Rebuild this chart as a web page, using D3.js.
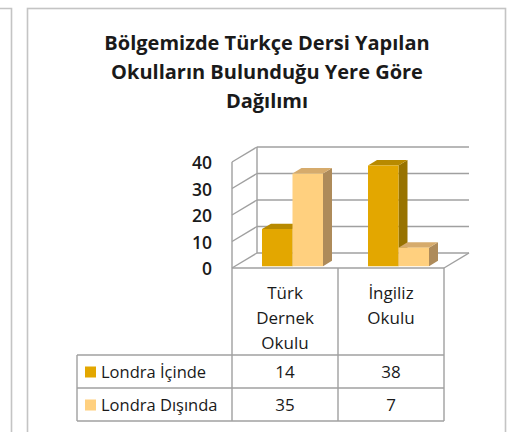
<!DOCTYPE html>
<html>
<head>
<meta charset="utf-8">
<script src="https://cdn.jsdelivr.net/npm/d3@7"></script>
<style>
  body { margin: 0; background: #fff; }
  text { font-family: "Open Sans", "Noto Sans", sans-serif; fill: #1a1a1a; }
</style>
</head>
<body>
<div id="chart"></div>
<script>
var titleLines = ['Bölgemizde Türkçe Dersi Yapılan', 'Okulların Bulunduğu Yere Göre', 'Dağılımı'],
	categories = ['Türk Dernek Okulu', 'İngiliz Okulu'],
	categoryLines = [['Türk', 'Dernek', 'Okulu'], ['İngiliz', 'Okulu']],
	seriesNames = ['Londra İçinde', 'Londra Dışında'],
	icinde = [14, 38],
	disinda = [35, 7],
	yTicks = [0, 10, 20, 30, 40];

var W = 515, H = 432;
var depthX = 25, depthY = 15;        // full floor depth offset
var barZ0 = 0.12, barZ1 = 0.48;       // bar depth inside the floor

// colours: front / top / side
var palette = [
	{ front: '#e3a700', top: '#b88a00', side: '#987300' },
	{ front: '#ffd07f', top: '#d6ab6c', side: '#ae8b5a' }
];

var svg = d3.select('#chart').append('svg')
	.attr('width', W)
	.attr('height', H);

// panel borders
svg.append('path')
	.attr('d', 'M0,8.5H11.5V' + (H + 5))
	.attr('fill', 'none').attr('stroke', '#c4c4c4').attr('stroke-width', 1.6);
svg.append('rect')
	.attr('x', 27.5).attr('y', 8.5).attr('width', 478).attr('height', H + 10)
	.attr('fill', 'none').attr('stroke', '#c4c4c4').attr('stroke-width', 1.6);

// title
svg.selectAll('.title')
	.data(titleLines)
	.enter().append('text')
	.attr('class', 'title')
	.attr('x', 267)
	.attr('y', function(d, i) { return 50 + i * 29; })
	.attr('text-anchor', 'middle')
	.style('font-size', '20px')
	.style('font-weight', 700)
	.text(function(d) { return d; });

var x = d3.scaleBand().domain(categories).range([232, 444]);
var y = d3.scaleLinear().domain([0, 40]).range([268, 162]);
var inner = d3.scaleBand().domain(seriesNames).range([27, 88]);

var gridColor = '#a0a0a0';

// back wall gridlines
svg.selectAll('.grid')
	.data(yTicks)
	.enter().append('line')
	.attr('x1', 232 + depthX)
	.attr('x2', 444 + depthX)
	.attr('y1', function(d) { return y(d) - depthY; })
	.attr('y2', function(d) { return y(d) - depthY; })
	.attr('stroke', gridColor).attr('stroke-width', 1.4);

// side wall gridlines
svg.selectAll('.sgrid')
	.data(yTicks)
	.enter().append('line')
	.attr('x1', 232)
	.attr('x2', 232 + depthX)
	.attr('y1', function(d) { return y(d); })
	.attr('y2', function(d) { return y(d) - depthY; })
	.attr('stroke', gridColor).attr('stroke-width', 1.4);

// wall edges and floor
var edges = [
	[232, y(0), 232, y(40)],
	[232 + depthX, y(0) - depthY, 232 + depthX, y(40) - depthY],
	[232, y(0), 444, y(0)],
	[444, y(0), 444 + depthX, y(0) - depthY]
];
svg.selectAll('.edge')
	.data(edges)
	.enter().append('line')
	.attr('x1', function(d) { return d[0]; })
	.attr('y1', function(d) { return d[1]; })
	.attr('x2', function(d) { return d[2]; })
	.attr('y2', function(d) { return d[3]; })
	.attr('stroke', gridColor).attr('stroke-width', 1.4);

// y tick labels
svg.selectAll('.ytick')
	.data(yTicks)
	.enter().append('text')
	.attr('x', 212)
	.attr('y', function(d) { return y(d) + 1; })
	.attr('dy', '0.35em')
	.attr('text-anchor', 'end')
	.style('font-size', '17.5px')
	.style('font-weight', 600)
	.text(function(d) { return d; });

// bars
var rows = [];
categories.forEach(function(c, i) {
	rows.push({ cat: c, s: 0, name: seriesNames[0], v: icinde[i] });
	rows.push({ cat: c, s: 1, name: seriesNames[1], v: disinda[i] });
});

function P(px, py, z) { return [px + z * depthX, py - z * depthY]; }

var bars = svg.selectAll('.bar')
	.data(rows)
	.enter().append('g')
	.attr('class', 'bar');

bars.each(function(d) {
	var g = d3.select(this);
	var x0 = x(d.cat) + inner(d.name), x1 = x0 + inner.bandwidth();
	var yb = y(0), yt = y(d.v);
	var c = palette[d.s];
	var a = P(x0, yt, barZ0), b = P(x1, yt, barZ0), bb = P(x1, yb, barZ0), ab = P(x0, yb, barZ0);
	var a2 = P(x0, yt, barZ1), b2 = P(x1, yt, barZ1), bb2 = P(x1, yb, barZ1);
	g.append('polygon').attr('points', [b, b2, bb2, bb].join(' ')).attr('fill', c.side);
	g.append('polygon').attr('points', [a, a2, b2, b].join(' ')).attr('fill', c.top);
	g.append('polygon').attr('points', [a, b, bb, ab].join(' ')).attr('fill', c.front);
});

// data table
var tableTop = y(0), headBottom = 355, rowH = 33;
var tLines = [
	[x.range()[0], tableTop, x.range()[0], headBottom + 2 * rowH],
	[x(categories[1]), tableTop, x(categories[1]), headBottom + 2 * rowH],
	[x.range()[1], tableTop, x.range()[1], headBottom + 2 * rowH],
	[77, headBottom, 77, headBottom + 2 * rowH],
	[77, headBottom, x.range()[1], headBottom],
	[77, headBottom + rowH, x.range()[1], headBottom + rowH],
	[77, headBottom + 2 * rowH, x.range()[1], headBottom + 2 * rowH]
];
svg.selectAll('.tline')
	.data(tLines)
	.enter().append('line')
	.attr('x1', function(d) { return d[0]; })
	.attr('y1', function(d) { return d[1]; })
	.attr('x2', function(d) { return d[2]; })
	.attr('y2', function(d) { return d[3]; })
	.attr('stroke', gridColor).attr('stroke-width', 1.4);

// category header
categories.forEach(function(c, i) {
	svg.selectAll('.cat' + i)
		.data(categoryLines[i])
		.enter().append('text')
		.attr('x', x(c) + x.bandwidth() / 2)
		.attr('y', function(d, j) { return 293 + j * 25; })
		.attr('dy', '0.35em')
		.attr('text-anchor', 'middle')
		.style('font-size', '17px')
		.text(function(d) { return d; });
});

// series rows
var seriesValues = [icinde, disinda];
seriesNames.forEach(function(name, s) {
	var cy = headBottom + rowH * s + rowH / 2;
	svg.append('rect')
		.attr('x', 85).attr('y', cy - 5).attr('width', 11).attr('height', 11)
		.attr('fill', palette[s].front);
	svg.append('text')
		.attr('x', 101).attr('y', cy + 1).attr('dy', '0.35em')
		.style('font-size', '16.5px')
		.text(name);
	svg.selectAll('.val' + s)
		.data(seriesValues[s])
		.enter().append('text')
		.attr('x', function(d, i) { return x(categories[i]) + x.bandwidth() / 2; })
		.attr('y', cy + 1).attr('dy', '0.35em')
		.attr('text-anchor', 'middle')
		.style('font-size', '17px')
		.text(function(d) { return d; });
});
</script>
</body>
</html>
